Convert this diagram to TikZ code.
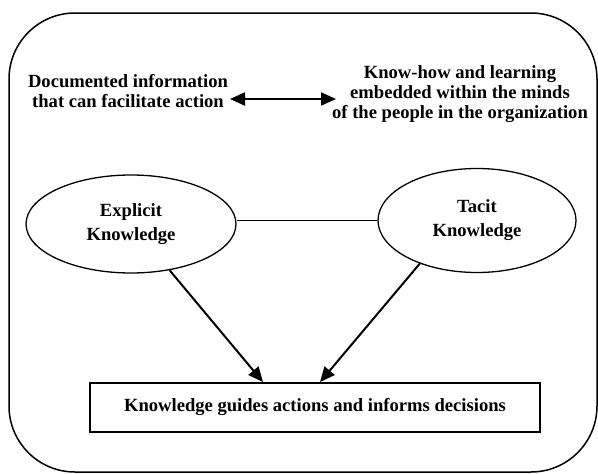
\documentclass[tikz,border=0pt]{standalone}
\usepackage{fontspec}
\setmainfont{Liberation Serif}
\usetikzlibrary{shapes.geometric,arrows.meta}
\begin{document}
\begin{tikzpicture}[x=1pt,y=-1pt,
  txt/.style={font=\fontsize{18.6}{20}\selectfont\bfseries, align=center, inner sep=0pt},
  ell/.style={draw, line width=1.3pt, shape=ellipse, inner sep=0pt,
    font=\fontsize{18.6}{24}\selectfont\bfseries, align=center},
  boxnode/.style={draw, line width=1.8pt, minimum width=450pt, minimum height=49pt,
    inner sep=0pt, font=\fontsize{18.6}{20}\selectfont\bfseries},
  arr/.style={line width=2pt, -{Triangle[length=15pt,width=13pt]}},
  darr/.style={line width=2pt, {Triangle[length=15pt,width=13pt]}-{Triangle[length=15pt,width=13pt]}}
]
\useasboundingbox (0,0) rectangle (598,474);
\draw[line width=1.5pt, rounded corners=66pt] (9,13) rectangle (597,472);

\node[txt, anchor=base] (doc) at (128,107) {Documented information\\that can facilitate action};
\node[txt, anchor=base] (know) at (460,118) {Know-how and learning\\embedded within the minds\\of the people in the organization};
\coordinate (aL) at (230,99);
\coordinate (aR) at (336,99);
\draw[darr] (aL) -- (aR);

\node[ell, minimum width=210pt, minimum height=98pt] (expl) at (131,224) {Explicit\\Knowledge};
\node[ell, minimum width=198pt, minimum height=104pt] (tacit) at (477,220.5) {Tacit\\Knowledge};
\draw[line width=1.3pt] (tacit.west) -- (tacit.west -| expl.east);

\node[boxnode] (box) at (315,407.5) {Knowledge guides actions and informs decisions};
\coordinate (tip1) at ([xshift=-52pt]box.north);
\coordinate (tip2) at ([xshift=5pt]box.north);
\draw[arr] (expl) -- (tip1);
\draw[arr] (tacit.-143) -- (tip2);
\end{tikzpicture}
\end{document}
